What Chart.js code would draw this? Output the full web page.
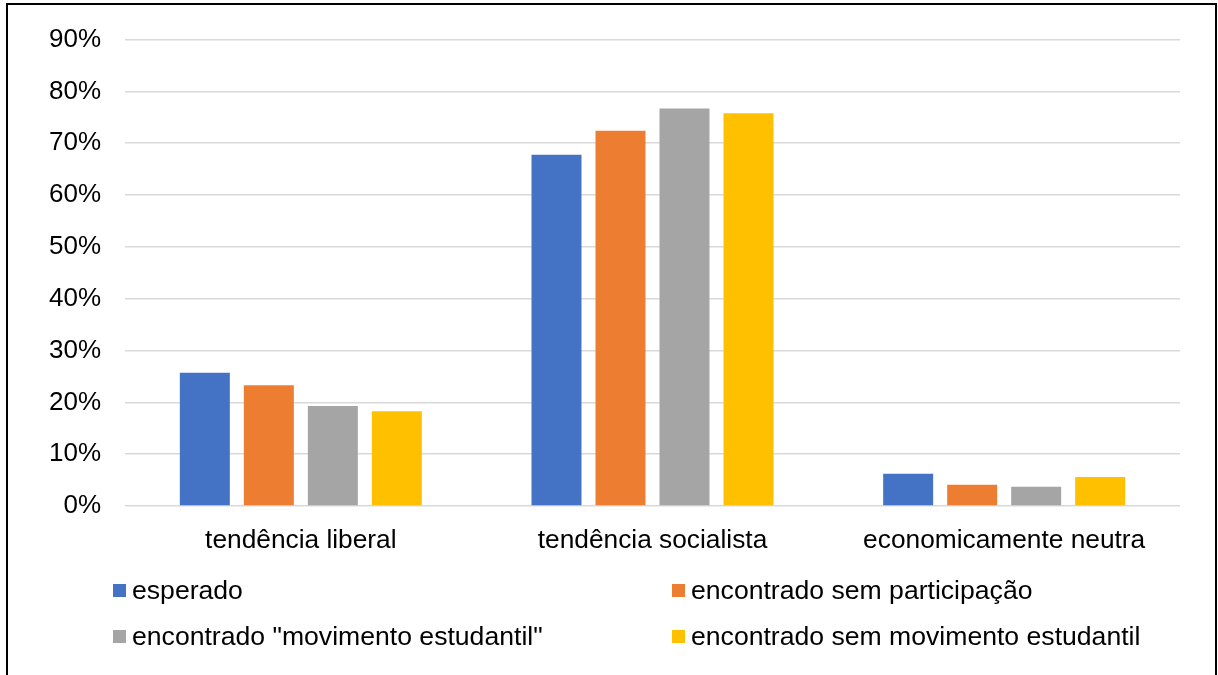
<!DOCTYPE html>
<html lang="pt">
<head>
<meta charset="utf-8">
<title>Tendência econômica</title>
<script src="https://cdn.jsdelivr.net/npm/chart.js@4/dist/chart.umd.min.js"></script>
<style>
  body { margin: 0; background: #fff; }
  #wrap { position: relative; width: 1218px; height: 675px; overflow: hidden; }
  #frame {
    position: absolute; left: 6px; top: 3px; width: 1207px; height: 700px;
    border: 2px solid #000; box-sizing: content-box;
  }
  #tendChart { position: absolute; left: 0; top: 0; }
  #legend {
    position: absolute; left: 113px; top: 575px;
    display: grid; grid-template-columns: 559px auto; grid-auto-rows: 46px;
    font: 26.6px "Liberation Sans", Arial, sans-serif; color: #000;
  }
  #legend .item { display: flex; align-items: center; height: 30px; white-space: nowrap; }
  #legend .box { width: 13px; height: 13px; margin-right: 6px; flex: none; }
</style>
</head>
<body>
<div id="wrap">
  <div id="frame"></div>
  <canvas id="tendChart" width="1218" height="675"></canvas>
  <div id="legend"></div>
</div>
<script>
const categories = ["tendência liberal", "tendência socialista", "economicamente neutra"];

const esperado = [25.7, 67.8, 6.2];
const semParticipacao = [23.3, 72.4, 4.1];
const movimentoEstudantil = [19.3, 76.7, 3.7];
const semMovimento = [18.3, 75.8, 5.6];

const yTicks = [0, 10, 20, 30, 40, 50, 60, 70, 80, 90];

const series = [
  { label: "esperado", data: esperado, color: "#4472C4" },
  { label: "encontrado sem participação", data: semParticipacao, color: "#ED7D31" },
  { label: "encontrado \"movimento estudantil\"", data: movimentoEstudantil, color: "#A5A5A5" },
  { label: "encontrado sem movimento estudantil", data: semMovimento, color: "#FFC000" },
];

const font = { family: "'Liberation Sans', Arial, sans-serif", size: 26 };
const catFont = { family: "'Liberation Sans', Arial, sans-serif", size: 26.3 };

const ctx = document.getElementById("tendChart").getContext("2d");

const tendChart = new Chart(ctx, {
  type: "bar",
  data: {
    labels: categories,
    datasets: series.map((s) => ({
      label: s.label,
      data: s.data,
      backgroundColor: s.color,
      borderWidth: 0,
      categoryPercentage: 0.728,
      barPercentage: 0.781,
    })),
  },
  options: {
    responsive: false,
    animation: false,
    layout: { padding: { top: 38, right: 38, left: 0, bottom: 0 } },
    plugins: {
      legend: { display: false },
      tooltip: { enabled: false },
    },
    scales: {
      x: {
        grid: { display: false },
        border: { display: false },
        ticks: { color: "#000", font: catFont, padding: 11, maxRotation: 0 },
        afterFit: (scale) => { scale.height = 169; },
      },
      y: {
        min: yTicks[0],
        max: yTicks[yTicks.length - 1],
        afterBuildTicks: (scale) => { scale.ticks = yTicks.map((v) => ({ value: v })); },
        grid: { color: "#d9d9d9", lineWidth: 1.5, drawTicks: false },
        border: { display: false },
        ticks: { color: "#000", font: font, padding: 24, callback: (v) => v + "%" },
        afterFit: (scale) => { scale.width = 125; },
      },
    },
  },
});

// two-column legend under the plot
const legendEl = document.getElementById("legend");
tendChart.data.datasets.forEach((ds) => {
  const item = document.createElement("div");
  item.className = "item";
  const box = document.createElement("span");
  box.className = "box";
  box.style.background = ds.backgroundColor;
  const text = document.createElement("span");
  text.textContent = ds.label;
  item.appendChild(box);
  item.appendChild(text);
  legendEl.appendChild(item);
});
</script>
</body>
</html>
